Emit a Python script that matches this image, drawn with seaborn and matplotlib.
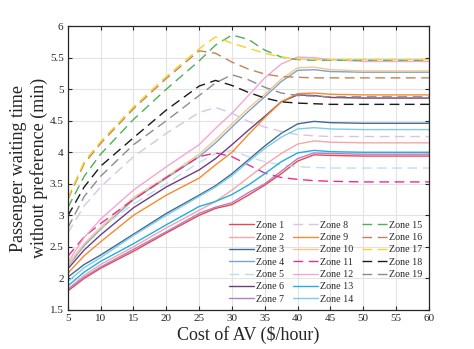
import pandas as pd
import seaborn as sns
import matplotlib.pyplot as plt
from matplotlib.lines import Line2D

# ---- Data ----
cost = [5, 7.5, 10, 15, 20, 25, 27.5, 30, 32.5, 35, 37.5, 40, 42.5, 45, 50, 55, 60]

zone1 = [1.80, 2.00, 2.16, 2.43, 2.72, 3.00, 3.11, 3.17, 3.32, 3.48, 3.66, 3.86, 3.96, 3.95, 3.94, 3.94, 3.94]
zone2 = [1.83, 2.05, 2.22, 2.50, 2.80, 3.08, 3.22, 3.40, 3.60, 3.80, 3.98, 4.13, 4.18, 4.16, 4.15, 4.15, 4.15]
zone3 = [2.02, 2.22, 2.37, 2.70, 3.03, 3.32, 3.47, 3.66, 3.88, 4.10, 4.30, 4.45, 4.49, 4.47, 4.46, 4.46, 4.46]
zone4 = [2.19, 2.52, 2.78, 3.25, 3.59, 3.93, 4.15, 4.40, 4.65, 4.88, 5.12, 5.30, 5.31, 5.28, 5.27, 5.27, 5.27]
zone5 = [2.20, 2.55, 2.80, 3.18, 3.50, 3.84, 3.98, 4.03, 3.93, 3.85, 3.80, 3.77, 3.76, 3.75, 3.75, 3.75, 3.75]
zone6 = [2.15, 2.45, 2.69, 3.12, 3.45, 3.72, 3.90, 4.12, 4.35, 4.57, 4.80, 4.91, 4.90, 4.87, 4.86, 4.86, 4.86]
zone7 = [1.82, 2.02, 2.18, 2.46, 2.74, 3.03, 3.13, 3.20, 3.36, 3.50, 3.70, 3.90, 3.99, 3.98, 3.97, 3.97, 3.97]
zone8 = [2.72, 3.15, 3.45, 3.93, 4.30, 4.63, 4.71, 4.62, 4.49, 4.40, 4.33, 4.28, 4.26, 4.25, 4.25, 4.25, 4.25]
zone9 = [2.08, 2.36, 2.58, 3.00, 3.32, 3.59, 3.80, 4.00, 4.28, 4.55, 4.80, 4.93, 4.94, 4.92, 4.91, 4.91, 4.91]
zone10 = [2.22, 2.55, 2.81, 3.28, 3.61, 3.97, 4.20, 4.45, 4.70, 4.92, 5.16, 5.34, 5.35, 5.31, 5.29, 5.29, 5.29]
zone11 = [2.35, 2.66, 2.87, 3.25, 3.60, 3.93, 3.99, 3.93, 3.80, 3.67, 3.60, 3.57, 3.55, 3.54, 3.53, 3.53, 3.53]
zone12 = [2.25, 2.65, 2.94, 3.40, 3.77, 4.12, 4.38, 4.62, 4.90, 5.18, 5.40, 5.51, 5.50, 5.47, 5.44, 5.44, 5.44]
zone13 = [1.88, 2.10, 2.27, 2.55, 2.85, 3.14, 3.22, 3.33, 3.48, 3.66, 3.85, 3.99, 4.03, 4.01, 4.00, 4.00, 4.00]
zone14 = [1.95, 2.17, 2.33, 2.68, 3.00, 3.30, 3.45, 3.63, 3.85, 4.06, 4.24, 4.37, 4.39, 4.37, 4.36, 4.36, 4.36]
zone15 = [3.12, 3.62, 3.97, 4.52, 5.00, 5.45, 5.70, 5.86, 5.79, 5.62, 5.51, 5.47, 5.46, 5.46, 5.46, 5.46, 5.46]
zone16 = [3.25, 3.82, 4.14, 4.69, 5.17, 5.61, 5.57, 5.43, 5.32, 5.24, 5.20, 5.19, 5.18, 5.18, 5.18, 5.18, 5.18]
zone17 = [3.27, 3.85, 4.17, 4.72, 5.20, 5.64, 5.83, 5.73, 5.65, 5.57, 5.51, 5.48, 5.47, 5.47, 5.47, 5.47, 5.47]
zone18 = [2.99, 3.45, 3.78, 4.23, 4.67, 5.05, 5.14, 5.06, 4.95, 4.86, 4.80, 4.78, 4.77, 4.76, 4.76, 4.76, 4.76]
zone19 = [2.80, 3.30, 3.62, 4.12, 4.50, 4.90, 5.10, 5.23, 5.15, 5.03, 4.94, 4.90, 4.89, 4.88, 4.88, 4.88, 4.88]

series = [zone1, zone2, zone3, zone4, zone5, zone6, zone7, zone8, zone9, zone10,
          zone11, zone12, zone13, zone14, zone15, zone16, zone17, zone18, zone19]
names = [f"Zone {i}" for i in range(1, 20)]

colors = ["#E8474F", "#F4A6A8", "#3E6A8F", "#7BA3C9", "#C4DBEE", "#6E3E7F",
          "#B57EC4", "#DCC3E3", "#F5892E", "#F9C58B", "#E8308C", "#F7A5D2",
          "#1FAEE5", "#7ECBEA", "#4DAF58", "#C08458", "#F5D327", "#1A1A1A", "#8C8C8C"]
dashed = {5, 8, 11, 15, 16, 17, 18, 19}

# ---- Long table ----
rows = []
for name, vals in zip(names, series):
    for c, v in zip(cost, vals):
        rows.append((name, c, v))
df = pd.DataFrame(rows, columns=["zone", "cost", "wait"])

palette = dict(zip(names, colors))
dash_map = {n: ((7, 4) if i + 1 in dashed else "") for i, n in enumerate(names)}

# ---- Plot ----
sns.set_theme(style="whitegrid")
plt.rcParams["font.family"] = ["Liberation Serif", "DejaVu Serif"]
plt.rcParams["mathtext.fontset"] = "stix"

fig = plt.figure(figsize=(4.74, 3.49), dpi=100)
ax = fig.add_axes([0.143, 0.112, 0.762, 0.813])

sns.lineplot(data=df, x="cost", y="wait", hue="zone", style="zone",
             palette=palette, dashes=dash_map, linewidth=1.0, ax=ax,
             sort=False, legend=True)

ax.set_xlim(5, 60)
ax.set_ylim(1.5, 6)
ax.set_xticks(range(5, 61, 5))
ax.set_yticks([1.5, 2, 2.5, 3, 3.5, 4, 4.5, 5, 5.5, 6])
ax.set_yticklabels(["1.5", "2", "2.5", "3", "3.5", "4", "4.5", "5", "5.5", "6"])
ax.set_facecolor("white")
ax.grid(True, color="#E3E3E3", linewidth=0.8)
for sp in ax.spines.values():
    sp.set_color("#262626")
    sp.set_linewidth(0.9)
ax.tick_params(direction="in", length=3, width=0.8, colors="#262626",
               labelsize=8, top=True, right=True, bottom=True, left=True, pad=3)

ax.set_xlabel("Cost of AV (\\$/hour)", fontsize=13, labelpad=2)
ax.set_ylabel("Passenger waiting time\nwithout preference (min)", fontsize=13,
              labelpad=1, linespacing=1.25)

# pad to 21 entries so the columns split 7 / 7 / 5
handles, labels = ax.get_legend_handles_labels()
blank = Line2D([], [], linestyle="none")
handles += [blank, blank]
labels += ["", ""]
ax.legend(handles, labels, ncol=3, frameon=False, fontsize=7.2,
          loc="lower left", bbox_to_anchor=(0.44, 0.015),
          handlelength=2.5, handletextpad=0.2, columnspacing=0.9,
          labelspacing=0.33, borderpad=0.2, borderaxespad=0)

plt.savefig("out.png", dpi=100)
plt.close()
